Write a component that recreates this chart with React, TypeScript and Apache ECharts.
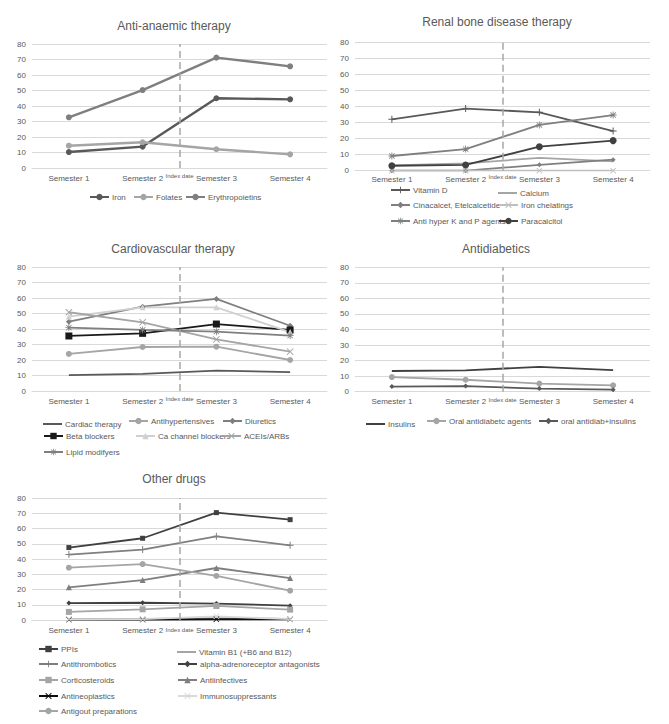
import React, { useEffect, useRef } from "react";
import * as echarts from "echarts";

// ---- categories / ticks ----
const semesters = ["Semester 1", "Semester 2", "Semester 3", "Semester 4"];
const yMin = 0;
const yMax = 80;
const yInterval = 10;
const indexDatePosition = 2; // boundary between Semester 2 and Semester 3
const indexDateLabel = "Index date";

// ---- Anti-anaemic therapy ----
const iron = [10.3, 13.8, 45.0, 44.3];
const folates = [14.4, 16.6, 12.1, 8.8];
const erythropoietins = [32.7, 50.3, 71.2, 65.6];

// ---- Renal bone disease therapy ----
const vitaminD = [32.1, 38.8, 36.5, 24.8];
const calcium = [3.3, 4.6, 8.0, 5.8];
const cinacalcet = [0, 0, 3.7, 6.9];
const ironChelatings = [0, 0, 0, 0];
const antiHyperKP = [9.2, 13.5, 28.6, 34.8];
const paracalcitol = [3.1, 3.6, 15.0, 18.8];

// ---- Cardiovascular therapy ----
const cardiacTherapy = [10.3, 11.0, 13.1, 12.2];
const antihypertensives = [23.9, 28.4, 28.6, 20.0];
const diuretics = [44.7, 54.4, 59.4, 42.1];
const betaBlockers = [35.5, 37.2, 43.2, 39.4];
const caChannelBlockers = [48.0, 54.0, 54.0, 38.0];
const aceiArbs = [50.8, 44.3, 33.3, 25.4];
const lipidModifyers = [40.9, 39.4, 38.3, 35.7];

// ---- Antidiabetics ----
const insulins = [13.3, 13.7, 16.0, 13.9];
const oralAntidiabetic = [9.4, 7.7, 5.2, 4.1];
const oralPlusInsulins = [3.3, 3.6, 2.0, 1.3];

// ---- Other drugs ----
const ppis = [47.5, 53.6, 70.4, 65.8];
const vitaminB1 = [0.8, 0.8, 1.2, 0.8];
const antithrombotics = [42.9, 46.2, 54.9, 49.0];
const alphaBlockers = [11.1, 11.3, 10.8, 9.4];
const corticosteroids = [5.3, 7.0, 9.2, 6.8];
const antiinfectives = [21.4, 26.2, 34.1, 27.5];
const antineoplastics = [0.3, 0.3, 0.5, 0.5];
const immunosuppressants = [0.5, 0.6, 2.4, 0.6];
const antigout = [34.3, 36.7, 28.9, 19.2];

const FONT = "Liberation Sans, Arial, sans-serif";
const TXT = "#595959";
const X_PATH = "path://M0,1L1,0L5,4L9,0L10,1L6,5L10,9L9,10L5,6L1,10L0,9L4,5Z";
const PLUS_PATH = "path://M4.3,0H5.7V4.3H10V5.7H5.7V10H4.3V5.7H0V4.3H4.3Z";
const STAR_PATH =
  "path://M4.4,0H5.6V4.4H10V5.6H5.6V10H4.4V5.6H0V4.4H4.4Z M0.8,1.6L1.6,0.8L5,4.2L8.4,0.8L9.2,1.6L5.8,5L9.2,8.4L8.4,9.2L5,5.8L1.6,9.2L0.8,8.4L4.2,5Z";

type Panel = {
  title: string;
  titleX: number;
  titleY: number;
  left: number;
  top: number;
  width: number;
  height: number;
  idxDist: number;
  lw: number;
  labelMargin: number;
};

const panels: Panel[] = [
  { title: "Anti-anaemic therapy", titleX: 174, titleY: 26, left: 32, top: 44, width: 295, height: 124, idxDist: 5, lw: 2.4, labelMargin: 6 },
  { title: "Renal bone disease therapy", titleX: 497, titleY: 22, left: 355, top: 42.7, width: 295, height: 128, idxDist: 3, lw: 1.8, labelMargin: 5 },
  { title: "Cardiovascular therapy", titleX: 173, titleY: 249, left: 32, top: 267, width: 295, height: 124, idxDist: 5, lw: 1.8, labelMargin: 6 },
  { title: "Antidiabetics", titleX: 496, titleY: 249, left: 355, top: 267.3, width: 295, height: 124.4, idxDist: 5, lw: 1.8, labelMargin: 6 },
  { title: "Other drugs", titleX: 174, titleY: 479, left: 32, top: 498, width: 295, height: 122, idxDist: 7, lw: 1.8, labelMargin: 6 },
];

type Ser = {
  name: string;
  data: number[];
  panel: number;
  color: string;
  symbol: string;
  size: number;
  lx: number;
  ly: number;
};

const seriesDefs: Ser[] = [
  { name: "Iron", data: iron, panel: 0, color: "#595959", symbol: "circle", size: 6, lx: 89, ly: 197 },
  { name: "Folates", data: folates, panel: 0, color: "#a5a5a5", symbol: "circle", size: 6, lx: 133, ly: 197 },
  { name: "Erythropoietins", data: erythropoietins, panel: 0, color: "#7f7f7f", symbol: "circle", size: 6, lx: 185, ly: 197 },

  { name: "Vitamin D", data: vitaminD, panel: 1, color: "#595959", symbol: PLUS_PATH, size: 7, lx: 390, ly: 190 },
  { name: "Calcium", data: calcium, panel: 1, color: "#a5a5a5", symbol: "none", size: 0, lx: 498, ly: 190 },
  { name: "Cinacalcet, Etelcalcetide", data: cinacalcet, panel: 1, color: "#7f7f7f", symbol: "diamond", size: 5, lx: 390, ly: 205 },
  { name: "Iron chelatings", data: ironChelatings, panel: 1, color: "#bfbfbf", symbol: X_PATH, size: 6, lx: 498, ly: 205 },
  { name: "Anti hyper K and P agents", data: antiHyperKP, panel: 1, color: "#7f7f7f", symbol: STAR_PATH, size: 7, lx: 390, ly: 221 },
  { name: "Paracalcitol", data: paracalcitol, panel: 1, color: "#404040", symbol: "circle", size: 7, lx: 498, ly: 221 },

  { name: "Cardiac therapy", data: cardiacTherapy, panel: 2, color: "#595959", symbol: "none", size: 0, lx: 43, ly: 421 },
  { name: "Antihypertensives", data: antihypertensives, panel: 2, color: "#a5a5a5", symbol: "circle", size: 6, lx: 128, ly: 421 },
  { name: "Diuretics", data: diuretics, panel: 2, color: "#7f7f7f", symbol: "diamond", size: 6, lx: 222, ly: 421 },
  { name: "Beta blockers", data: betaBlockers, panel: 2, color: "#1a1a1a", symbol: "rect", size: 7, lx: 43, ly: 436 },
  { name: "Ca channel blockers", data: caChannelBlockers, panel: 2, color: "#d0d0d0", symbol: "triangle", size: 6, lx: 135, ly: 436 },
  { name: "ACEIs/ARBs", data: aceiArbs, panel: 2, color: "#a5a5a5", symbol: X_PATH, size: 7, lx: 221, ly: 436 },
  { name: "Lipid modifyers", data: lipidModifyers, panel: 2, color: "#7f7f7f", symbol: STAR_PATH, size: 7, lx: 43, ly: 452 },

  { name: "Insulins", data: insulins, panel: 3, color: "#404040", symbol: "none", size: 0, lx: 366, ly: 421 },
  { name: "Oral antidiabetc agents", data: oralAntidiabetic, panel: 3, color: "#a5a5a5", symbol: "circle", size: 6, lx: 426, ly: 421 },
  { name: "oral antidiab+insulins", data: oralPlusInsulins, panel: 3, color: "#595959", symbol: "diamond", size: 5, lx: 538, ly: 421 },

  { name: "PPIs", data: ppis, panel: 4, color: "#404040", symbol: "rect", size: 5, lx: 38, ly: 649 },
  { name: "Vitamin B1 (+B6 and B12)", data: vitaminB1, panel: 4, color: "#a5a5a5", symbol: "none", size: 0, lx: 177, ly: 649 },
  { name: "Antithrombotics", data: antithrombotics, panel: 4, color: "#7f7f7f", symbol: PLUS_PATH, size: 7, lx: 38, ly: 664 },
  { name: "alpha-adrenoreceptor antagonists", data: alphaBlockers, panel: 4, color: "#404040", symbol: "diamond", size: 5, lx: 177, ly: 664 },
  { name: "Corticosteroids", data: corticosteroids, panel: 4, color: "#a5a5a5", symbol: "rect", size: 6, lx: 38, ly: 680 },
  { name: "Antiinfectives", data: antiinfectives, panel: 4, color: "#7f7f7f", symbol: "triangle", size: 6, lx: 177, ly: 680 },
  { name: "Antineoplastics", data: antineoplastics, panel: 4, color: "#0d0d0d", symbol: X_PATH, size: 6, lx: 38, ly: 696 },
  { name: "Immunosuppressants", data: immunosuppressants, panel: 4, color: "#d9d9d9", symbol: X_PATH, size: 6, lx: 177, ly: 696 },
  { name: "Antigout preparations", data: antigout, panel: 4, color: "#a5a5a5", symbol: "circle", size: 6, lx: 38, ly: 711 },
];

export default function App() {
  const ref = useRef<HTMLDivElement>(null);
  useEffect(() => {
    if (!ref.current) return;
    const chart = echarts.init(ref.current, null, { renderer: "svg" });
    const np = panels.length;

    const grid = panels.map((p) => ({ left: p.left, top: p.top, width: p.width, height: p.height }));

    const catAxes = panels.map((p, i) => ({
      type: "category",
      gridIndex: i,
      data: semesters,
      boundaryGap: true,
      axisLine: { show: true, lineStyle: { color: "#d9d9d9", width: 1 } },
      axisTick: { show: false },
      axisLabel: { color: TXT, fontSize: 8, fontFamily: FONT, margin: p.labelMargin },
    }));
    const valAxes = panels.map((_, i) => ({
      type: "value",
      gridIndex: i,
      min: 0,
      max: semesters.length,
      show: false,
    }));
    const yAxes = panels.map((_, i) => ({
      type: "value",
      gridIndex: i,
      min: yMin,
      max: yMax,
      interval: yInterval,
      axisLine: { show: false },
      axisTick: { show: false },
      splitLine: { lineStyle: { color: "#d9d9d9", width: 1 } },
      axisLabel: { color: TXT, fontSize: 8, fontFamily: FONT, margin: 6 },
    }));

    const dataSeries = seriesDefs.map((s) => ({
      type: "line",
      name: s.name,
      data: s.data,
      xAxisIndex: s.panel,
      yAxisIndex: s.panel,
      symbol: s.symbol,
      symbolSize: s.size,
      showSymbol: s.symbol !== "none",
      color: s.color,
      lineStyle: { color: s.color, width: panels[s.panel].lw },
      itemStyle: { color: s.color, borderWidth: 0 },
      emphasis: { disabled: true },
      z: 3,
    }));

    const markSeries = panels.map((p, i) => ({
      type: "line",
      name: "__index" + i,
      xAxisIndex: np + i,
      yAxisIndex: i,
      data: [],
      silent: true,
      z: 2,
      markLine: {
        silent: true,
        symbol: "none",
        lineStyle: { color: "#a6a6a6", width: 1.5, type: [7, 4] },
        label: {
          show: true,
          position: "start",
          distance: p.idxDist,
          formatter: indexDateLabel,
          fontSize: 6,
          color: TXT,
          fontFamily: FONT,
        },
        data: [{ xAxis: indexDatePosition }],
      },
    }));

    const legends = seriesDefs.map((s) => {
      const plain = s.symbol === "none";
      return {
        data: plain ? [{ name: s.name, icon: "rect" }] : [s.name],
        left: s.lx,
        top: plain ? s.ly - 1 : s.ly - 4,
        padding: 0,
        itemWidth: 19,
        itemHeight: plain ? 2 : 8,
        selectedMode: false,
        textStyle: { color: TXT, fontSize: 8, fontFamily: FONT, padding: [0, 0, 0, -2] },
      };
    });

    const titles = panels.map((p) => ({
      type: "text",
      x: p.titleX,
      y: p.titleY,
      style: {
        text: p.title,
        align: "center",
        verticalAlign: "middle",
        fontSize: 12,
        fontFamily: FONT,
        fill: TXT,
      },
    }));

    chart.setOption({
      animation: false,
      backgroundColor: "#ffffff",
      grid,
      xAxis: [...catAxes, ...valAxes],
      yAxis: yAxes,
      legend: legends,
      graphic: titles,
      series: [...markSeries, ...dataSeries],
    });
    return () => chart.dispose();
  }, []);
  return (
    <div
      ref={ref}
      style={{ position: "fixed", left: 0, top: 0, width: 669, height: 724, background: "#fff" }}
    />
  );
}
